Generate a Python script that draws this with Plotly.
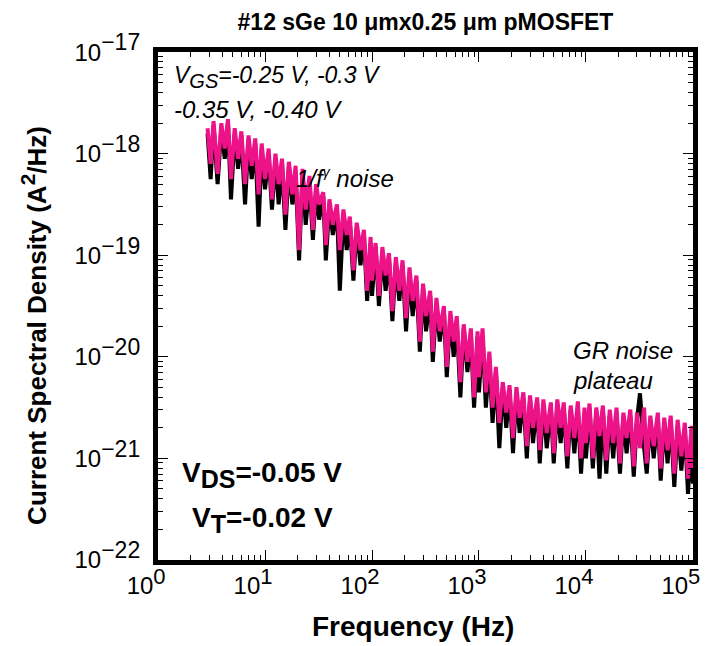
import plotly.graph_objects as go

# Frequencies (Hz)
freq = [2.9, 3.1, 3.3, 3.6, 3.9, 4.2, 4.5, 4.8, 5.2, 5.6, 6.0, 6.5, 7.0, 7.5, 8.1, 8.7, 9.3,
        10, 10.8, 11.6, 12.5, 13.4, 14.4, 15.5, 16.7, 18, 19.3, 20.8, 22.4, 24, 26, 28, 30,
        32, 35, 37, 40, 43, 47, 50, 54, 58, 62, 67, 72, 78, 84, 90, 97,
        100, 108, 116, 125, 134, 144, 155, 167, 180, 193, 208, 224, 240, 260, 280, 300,
        320, 350, 370, 400, 430, 470, 500, 540, 580, 620, 670, 720, 780, 840, 900, 970,
        1000, 1080, 1160, 1250, 1340, 1440, 1550, 1670, 1800, 1930, 2080, 2240, 2400, 2600, 2800, 3000,
        3200, 3500, 3700, 4000, 4300, 4700, 5000, 5400, 5800, 6200, 6700, 7200, 7800, 8400, 9000, 9700,
        10000, 10800, 11600, 12500, 13400, 14400, 15500, 16700, 18000, 19300, 20800, 22400, 24000, 26000, 28000, 30000,
        32000, 35000, 37000, 40000, 43000, 47000, 50000, 54000, 58000, 62000, 67000, 72000, 78000, 84000, 90000, 97000,
        100000]

# log10 of the current spectral density (A^2/Hz)
black_log = [-17.80, -18.25, -17.72, -18.30, -17.75, -18.05, -17.70, -18.45, -17.80, -18.15, -17.82, -18.50, -17.86, -18.25, -17.90, -18.72, -17.95,
             -18.35, -18.00, -18.55, -18.05, -18.50, -18.10, -18.75, -18.12, -18.50, -18.18, -19.05, -18.20, -18.70, -18.28, -18.85, -18.35,
             -18.65, -18.42, -19.05, -18.50, -18.80, -18.55, -19.35, -18.60, -18.95, -18.68, -19.25, -18.72, -19.10, -18.80, -19.45, -18.88,
             -19.40, -18.92, -19.50, -18.98, -19.35, -19.02, -19.65, -19.08, -19.45, -19.10, -19.75, -19.18, -19.60, -19.25, -19.95, -19.32,
             -19.75, -19.40, -20.05, -19.48, -19.85, -19.55, -20.20, -19.60, -20.00, -19.65, -20.40, -19.72, -20.15, -19.78, -20.50, -19.80,
             -20.35, -19.80, -20.50, -20.02, -20.65, -20.15, -20.90, -20.30, -20.70, -20.32, -20.95, -20.35, -20.75, -20.40, -21.00, -20.42,
             -20.85, -20.45, -21.05, -20.48, -20.90, -20.50, -21.05, -20.48, -20.85, -20.50, -21.10, -20.52, -20.95, -20.50, -21.15, -20.55,
             -21.00, -20.50, -21.10, -20.55, -21.20, -20.52, -21.15, -20.58, -21.00, -20.55, -21.15, -20.60, -20.95, -20.58, -21.18, -20.62,
             -20.36, -20.90, -21.15, -20.62, -21.00, -20.60, -21.22, -20.65, -21.05, -20.62, -21.28, -20.68, -21.12, -20.70, -21.35, -20.72,
             -21.25]

pink_log = [-17.75, -18.10, -17.68, -18.20, -17.70, -17.95, -17.66, -18.25, -17.75, -18.05, -17.78, -18.30, -17.82, -18.12, -17.85, -18.40, -17.90,
            -18.25, -17.95, -18.45, -18.00, -18.30, -18.05, -18.60, -18.08, -18.40, -18.12, -18.95, -18.15, -18.55, -18.22, -18.75, -18.30,
            -18.50, -18.38, -18.90, -18.45, -18.70, -18.50, -18.95, -18.55, -18.80, -18.62, -19.15, -18.68, -18.95, -18.75, -19.35, -18.82,
            -19.25, -18.88, -19.40, -18.92, -19.20, -18.98, -19.55, -19.02, -19.35, -19.05, -19.62, -19.12, -19.45, -19.20, -19.85, -19.28,
            -19.60, -19.35, -19.95, -19.42, -19.75, -19.50, -20.10, -19.55, -19.85, -19.60, -20.25, -19.68, -20.05, -19.72, -20.40, -19.75,
            -20.20, -19.72, -20.35, -19.95, -20.50, -20.10, -20.65, -20.25, -20.55, -20.28, -20.80, -20.30, -20.60, -20.35, -20.88, -20.38,
            -20.70, -20.40, -20.92, -20.42, -20.75, -20.45, -20.95, -20.42, -20.70, -20.45, -20.98, -20.48, -20.80, -20.44, -21.00, -20.50,
            -20.85, -20.46, -21.00, -20.50, -20.78, -20.48, -21.02, -20.52, -20.85, -20.50, -21.05, -20.55, -20.80, -20.52, -21.08, -20.55,
            -20.90, -20.50, -21.05, -20.58, -20.88, -20.55, -21.10, -20.60, -20.92, -20.58, -21.15, -20.62, -20.98, -20.65, -21.20, -20.68,
            -21.10]

black_psd = [10 ** v for v in black_log]
pink_psd = [10 ** v for v in pink_log]

FONT = "Arial, Liberation Sans, sans-serif"
PINK = "#EE1289"


def sup(t, size):
    return "<sup><span style='font-size:%dpx'>%s</span></sup>" % (size, t)


def sub(t, size):
    return "<sub><span style='font-size:%dpx'>%s</span></sub>" % (size, t)


x_tickvals = [1, 10, 100, 1000, 10000, 100000]
x_ticktext = ["10" + sup(e, 22) for e in ["0", "1", "2", "3", "4", "5"]]
y_tickvals = [1e-22, 1e-21, 1e-20, 1e-19, 1e-18, 1e-17]
y_ticktext = ["10" + sup(e, 23) for e in ["−22", "−21", "−20", "−19", "−18", "−17"]]
x_minor = [m * 10 ** k for k in range(0, 5) for m in range(2, 10)]
y_minor = [m * 10.0 ** k for k in range(-22, -17) for m in range(2, 10)]

fig = go.Figure()
fig.add_trace(go.Scatter(x=freq, y=black_psd, mode="lines",
                         line=dict(color="black", width=4), showlegend=False))
fig.add_trace(go.Scatter(x=freq, y=pink_psd, mode="lines",
                         line=dict(color=PINK, width=4), showlegend=False))
# empty trace so the overlay (minor-tick) axes are drawn
fig.add_trace(go.Scatter(x=[], y=[], xaxis="x2", yaxis="y2", showlegend=False,
                         hoverinfo="skip"))

XR = [-0.001, 5.001]
YR = [-22.001, -16.999]

fig.update_layout(
    xaxis=dict(type="log", range=XR, tickvals=x_tickvals, ticktext=x_ticktext,
               showgrid=False, zeroline=False, showline=True, linewidth=5, linecolor="black",
               mirror="allticks", ticks="inside", ticklen=10, tickwidth=1, tickcolor="black",
               ticklabeloverflow="allow", automargin=False, ticklabelshift=-12,
               tickfont=dict(family=FONT, size=24, color="black")),
    yaxis=dict(type="log", range=YR, tickvals=y_tickvals, ticktext=y_ticktext,
               showgrid=False, zeroline=False, showline=True, linewidth=5, linecolor="black",
               mirror="allticks", ticks="inside", ticklen=10, tickwidth=1, tickcolor="black",
               ticklabeloverflow="allow", ticklabelstandoff=8, automargin=False,
               tickfont=dict(family=FONT, size=24, color="black")),
    xaxis2=dict(type="log", range=XR, overlaying="x", anchor="y", side="bottom",
                tickvals=x_minor, showticklabels=False, showgrid=False, zeroline=False,
                showline=False, mirror="allticks", ticks="inside", ticklen=5, tickwidth=1,
                tickcolor="black", automargin=False),
    yaxis2=dict(type="log", range=YR, overlaying="y", anchor="x", side="left",
                tickvals=y_minor, showticklabels=False, showgrid=False, zeroline=False,
                showline=False, mirror="allticks", ticks="inside", ticklen=5, tickwidth=1,
                tickcolor="black", automargin=False),
)

ann = []


def add(text, x, y, size, xanchor="left", bold=False, italic=False, angle=0):
    if bold:
        text = "<b>" + text + "</b>"
    if italic:
        text = "<i>" + text + "</i>"
    ann.append(dict(text=text, x=x, y=y, xref="paper", yref="paper", showarrow=False,
                    xanchor=xanchor, yanchor="middle", textangle=angle,
                    font=dict(family=FONT, size=size, color="black")))


add("V" + sub("GS", 20) + "=-0.25 V, -0.3 V", 0.026, 0.951, 23, italic=True)
add("-0.35 V, -0.40 V", 0.026, 0.886, 24, italic=True)
add("1/f" + sup("γ", 14) + " noise", 0.254, 0.752, 24, italic=True)
add("GR noise", 0.772, 0.413, 24, italic=True)
add("plateau", 0.772, 0.354, 24, italic=True)
add("V" + sub("DS", 25) + "=-0.05 V", 0.041, 0.167, 28, bold=True)
add("V" + sub("T", 25) + "=-0.02 V", 0.059, 0.079, 28, bold=True)
add("Current Spectral Density (A" + sup("2", 21) + "/Hz)", -0.232, 0.4626, 26,
    xanchor="center", bold=True, angle=-90)
add("Frequency (Hz)", 0.477, -0.13, 28, xanchor="center", bold=True)

# page body has an 8px margin, so the figure is shifted by 8px
fig.update_layout(
    width=700, height=638,
    margin=dict(l=150, r=15, t=44, b=86),
    paper_bgcolor="white", plot_bgcolor="white",
    title=dict(text="<b>#12 sGe 10 μmx0.25 μm pMOSFET</b>", x=0.5, xref="paper",
               y=1 - 14 / 638, yref="container", xanchor="center", yanchor="middle",
               font=dict(family=FONT, size=23, color="black")),
    annotations=ann,
)

fig.write_html("out.html")
